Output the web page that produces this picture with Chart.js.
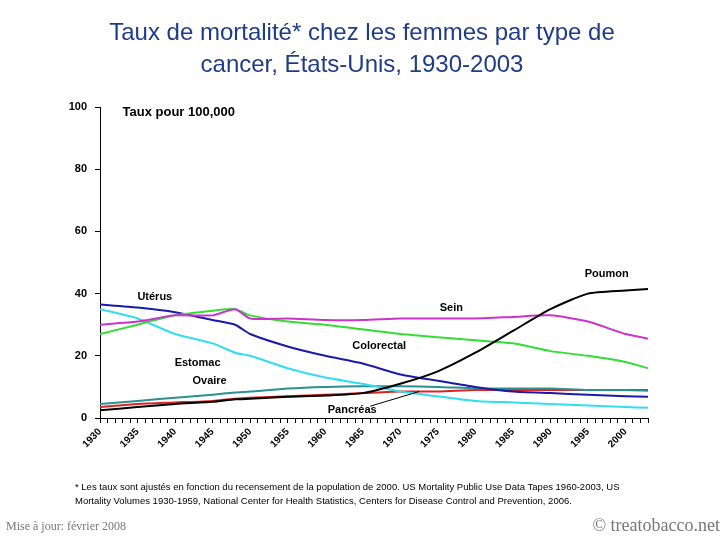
<!DOCTYPE html>
<html><head><meta charset="utf-8">
<script src="https://cdn.jsdelivr.net/npm/chart.js@4/dist/chart.umd.min.js"></script>
<style>body{margin:0;background:#fff}#w{width:728px;height:546px;position:relative}</style>
</head><body><div id="w"><canvas id="c"></canvas></div>
<script>
const years = [1930,1935,1940,1945,1948,1950,1955,1960,1965,1970,1975,1980,1985,1990,1995,2000,2003];
const poumon     = [2.5,3.5,4.5,5.2,6,6.2,6.8,7.2,8,11,15,21,28,35,40,41,41.5];
const sein       = [30,31,33,33,35,32,32,31.5,31.5,32,32,32,32.5,33,31,27,25.5];
const colorectal = [27,30,33,34.5,35,33,31,30,28.5,27,26,25,24,21.5,20,18,16];
const uterus     = [36.5,35.5,34,31.5,30,27,23,20,17.5,14,12,10,8.5,8,7.5,7,6.8];
const estomac    = [35,32,27,24,21,20,16,13,11,8.5,7,5.5,5,4.5,4,3.5,3.3];
const ovaire     = [4.5,5.5,6.5,7.5,8.2,8.5,9.5,10,10.2,10.2,10,9.5,9.5,9.5,9,9,8.8];
const pancreas   = [3.5,4.5,5,5.5,6.2,6.5,7,7.5,8,8.5,8.5,9,9,9,9,9,9];
const yTicks = [0,20,40,60,80,100];
const labels = [
 ["Poumon",1997.5,46.3],["Sein",1976.8,35.4],["Colorectal",1967.2,23.2],["Utérus",1937.3,38.9],
 ["Estomac",1943,17.7],["Ovaire",1944.6,11.9],["Pancréas",1963.6,2.6]
];
const mk=(d,c)=>({data:years.map((y,i)=>({x:y,y:d[i]})),borderColor:c,borderWidth:2,pointRadius:0,tension:0.2});
const txt={id:'txt',afterDraw(ch){
 const c=ch.ctx,x=ch.scales.x,y=ch.scales.y;
 c.save();c.fillStyle='#000';c.font='bold 11px Arial';c.textAlign='center';c.textBaseline='middle';
 labels.forEach(l=>c.fillText(l[0],x.getPixelForValue(l[1]),y.getPixelForValue(l[2])));
 c.beginPath();c.moveTo(x.getPixelForValue(1966),y.getPixelForValue(3.8));c.lineTo(x.getPixelForValue(1972.5),y.getPixelForValue(8.5));c.lineWidth=1;c.strokeStyle='#000';c.stroke();
 c.font='bold 13px Arial';c.textAlign='left';c.fillText('Taux pour 100,000',x.getPixelForValue(1933),y.getPixelForValue(98.3));
 c.fillStyle='#1F3C88';c.font='24px Arial';c.textAlign='center';
 c.fillText('Taux de mortalité* chez les femmes par type de',362,33);c.fillText('cancer, États-Unis, 1930-2003',362,65);
 c.fillStyle='#000';c.font='9.5px Arial';c.textAlign='left';
 c.fillText('* Les taux sont ajustés en fonction du recensement de la population de 2000. US Mortality Public Use Data Tapes 1960-2003, US',75,487);
 c.fillText('Mortality Volumes 1930-1959, National Center for Health Statistics, Centers for Disease Control and Prevention, 2006.',75,501);
 c.fillStyle='#777';c.font='12px "Liberation Serif"';c.fillText('Mise à jour: février 2008',6,527);
 c.font='18px "Liberation Serif"';c.textAlign='right';c.fillText('© treatobacco.net',720,526);
 c.restore();}};
new Chart(document.getElementById('c'),{type:'line',
 data:{datasets:[mk(poumon,'#000'),mk(sein,'#CC33CC'),mk(colorectal,'#33DD33'),mk(uterus,'#1A1AAA'),mk(estomac,'#33DDEE'),mk(ovaire,'#2A9090'),mk(pancreas,'#DD2222')]},
 options:{responsive:true,maintainAspectRatio:false,animation:false,
  layout:{padding:{top:107,right:80,left:0,bottom:0}},
  plugins:{legend:{display:false},tooltip:{enabled:false}},
  scales:{
   x:{type:'linear',min:1930,max:2003,afterFit(s){s.height=128;},
     grid:{display:true,drawOnChartArea:false,drawTicks:true,tickLength:5,tickColor:'#000'},border:{color:'#000'},
     ticks:{stepSize:1,autoSkip:false,maxRotation:45,minRotation:45,color:'#000',font:{size:10,weight:'bold'},
       callback:v=>v%5===0&&v<=2000?String(v):''}},
   y:{min:0,max:100,afterFit(s){s.width=100;},afterBuildTicks(s){s.ticks=yTicks.map(v=>({value:v}));},
     grid:{display:true,drawOnChartArea:false,drawTicks:true,tickLength:5,tickColor:'#000'},border:{color:'#000'},
     ticks:{color:'#000',font:{size:11,weight:'bold'},padding:8}}
  }},plugins:[txt]});
</script></body></html>
